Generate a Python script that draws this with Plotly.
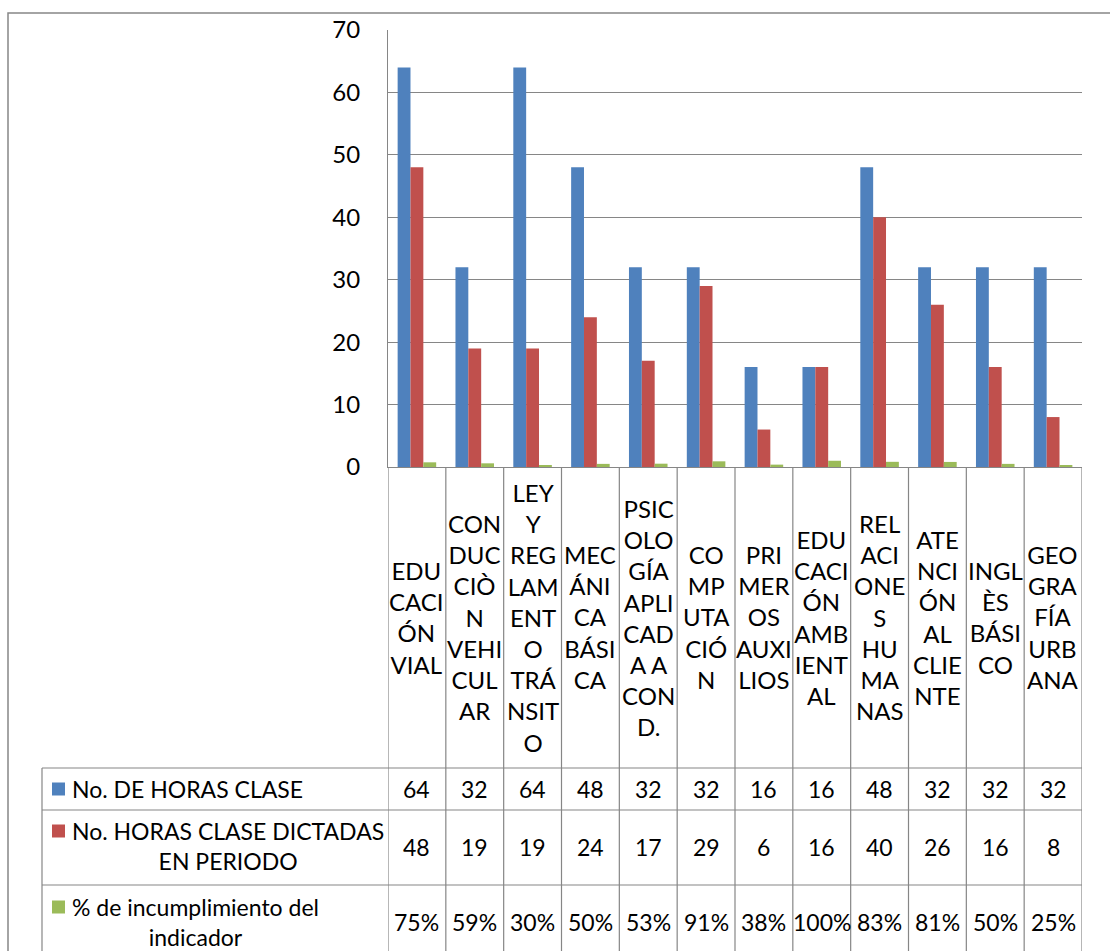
import plotly.graph_objects as go

# Subjects (wrapped as they appear in the table header)
labels = [
    "EDU<br>CACI<br>ÓN<br>VIAL",
    "CON<br>DUC<br>CIÒ<br>N<br>VEHI<br>CUL<br>AR",
    "LEY<br>Y<br>REG<br>LAM<br>ENT<br>O<br>TRÁ<br>NSIT<br>O",
    "MEC<br>ÁNI<br>CA<br>BÁSI<br>CA",
    "PSIC<br>OLO<br>GÍA<br>APLI<br>CAD<br>A A<br>CON<br>D.",
    "CO<br>MP<br>UTA<br>CIÓ<br>N",
    "PRI<br>MER<br>OS<br>AUXI<br>LIOS",
    "EDU<br>CACI<br>ÓN<br>AMB<br>IENT<br>AL",
    "REL<br>ACI<br>ONE<br>S<br>HU<br>MA<br>NAS",
    "ATE<br>NCI<br>ÓN<br>AL<br>CLIE<br>NTE",
    "INGL<br>ÈS<br>BÁSI<br>CO",
    "GEO<br>GRA<br>FÍA<br>URB<br>ANA",
]
horas_clase = [64, 32, 64, 48, 32, 32, 16, 16, 48, 32, 32, 32]
horas_dictadas = [48, 19, 19, 24, 17, 29, 6, 16, 40, 26, 16, 8]
incumplimiento = [0.75, 0.59, 0.30, 0.50, 0.53, 0.91, 0.38, 1.00, 0.83, 0.81, 0.50, 0.25]

series_names = [
    "No. DE HORAS CLASE",
    "No. HORAS CLASE DICTADAS<br>EN PERIODO",
    "% de incumplimiento del<br>indicador",
]
series_colors = ["#4F81BD", "#C0504D", "#9BBB59"]
y_ticks = [0, 10, 20, 30, 40, 50, 60, 70]

W, H = 1110, 951
ML, MR, MT, MB = 388, 28, 30, 484
PW, PH = W - ML - MR, H - MT - MB
FONT = "Lato"
FS = 24
GRID = "#868686"


def px_x(px):
    return (px - ML) / PW


def px_y(py):
    return (H - MB - py) / PH


x = list(range(len(labels)))
fig = go.Figure()
for vals, name, col in zip([horas_clase, horas_dictadas, incumplimiento], series_names, series_colors):
    fig.add_bar(x=x, y=vals, name=name, marker_color=col, marker_line_width=0)

shapes = []
annotations = []

# outer chart border
shapes.append(dict(type="rect", xref="paper", yref="paper",
                   x0=px_x(8), x1=px_x(1116), y0=px_y(13), y1=px_y(965),
                   line=dict(color="#878787", width=1.5)))

# data table geometry (pixel rows)
header_bottom = 768
row_edges = [768, 810, 885, 962]
table_left = 42

# vertical lines at category boundaries
n = len(labels)
for i in range(n + 1):
    shapes.append(dict(type="line", xref="x", yref="paper",
                       x0=i - 0.5, x1=i - 0.5, y0=0, y1=px_y(row_edges[-1]),
                       line=dict(color=GRID, width=1.2)))
# legend column left edge
shapes.append(dict(type="line", xref="paper", yref="paper",
                   x0=px_x(table_left), x1=px_x(table_left),
                   y0=px_y(header_bottom), y1=px_y(row_edges[-1]),
                   line=dict(color=GRID, width=1.2)))
# horizontal row lines
for ry in row_edges:
    shapes.append(dict(type="line", xref="paper", yref="paper",
                       x0=px_x(table_left), x1=1, y0=px_y(ry), y1=px_y(ry),
                       line=dict(color=GRID, width=1.2)))

# category header labels
for i, lab in enumerate(labels):
    annotations.append(dict(x=i, y=px_y(617), xref="x", yref="paper",
                            text=lab, showarrow=False, align="center",
                            xanchor="center", yanchor="middle",
                            font=dict(family=FONT, size=FS, color="black")))

# table rows: legend key, series name, values
row_text_y = [789, 847, 922]
row_key_y = [789, 831, 907]
row_vals = [
    [str(v) for v in horas_clase],
    [str(v) for v in horas_dictadas],
    [f"{round(v * 100)}%" for v in incumplimiento],
]
for r in range(3):
    ky = row_key_y[r]
    shapes.append(dict(type="rect", xref="paper", yref="paper",
                       x0=px_x(52), x1=px_x(65), y0=px_y(ky + 6.5), y1=px_y(ky - 6.5),
                       fillcolor=series_colors[r], line=dict(width=0)))
    annotations.append(dict(x=px_x(70), y=px_y(row_text_y[r] if r == 0 else (ky - 16)),
                            xref="paper", yref="paper", text=series_names[r],
                            showarrow=False, align="center",
                            xanchor="left", yanchor="middle" if r == 0 else "top",
                            font=dict(family=FONT, size=FS - 1, color="black")))
    for i, v in enumerate(row_vals[r]):
        annotations.append(dict(x=i, y=px_y(row_text_y[r]), xref="x", yref="paper",
                                text=v, showarrow=False, xanchor="center", yanchor="middle",
                                font=dict(family=FONT, size=FS - 1, color="black")))

fig.update_layout(
    width=W, height=H,
    margin=dict(l=ML, r=MR, t=MT, b=MB),
    paper_bgcolor="white", plot_bgcolor="white",
    barmode="group", bargap=1.5 / 4.5, bargroupgap=0,
    showlegend=False,
    font=dict(family=FONT, size=FS, color="black"),
    shapes=shapes, annotations=annotations,
    xaxis=dict(range=[-0.5, n - 0.5], showticklabels=False, ticks="",
               showgrid=False, zeroline=False, showline=True,
               linecolor=GRID, linewidth=1.2, fixedrange=True),
    yaxis=dict(range=[0, 70], tickvals=y_ticks, showgrid=True,
               gridcolor=GRID, gridwidth=1.2, zeroline=False,
               showline=True, linecolor=GRID, linewidth=1.2, ticks="",
               ticklabelstandoff=22,
               tickfont=dict(family=FONT, size=FS, color="black")),
)

fig.write_html("out.html")
